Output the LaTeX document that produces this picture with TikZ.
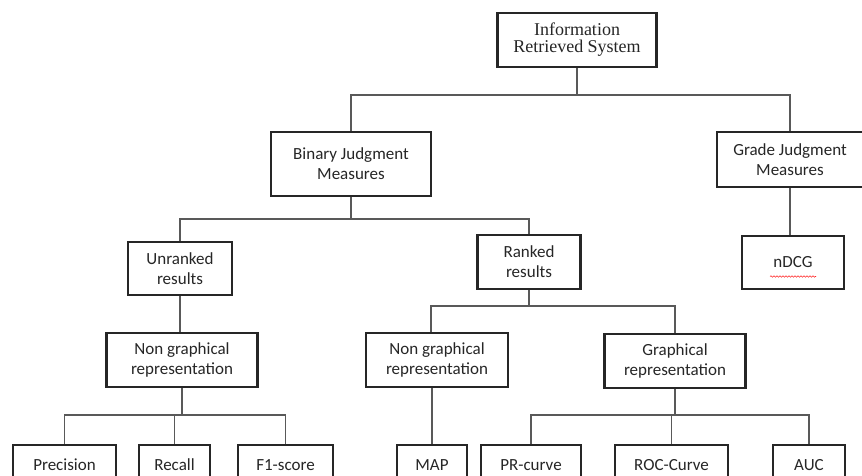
\documentclass[tikz,border=0pt]{standalone}
\usepackage{fontspec}
\setmainfont{Carlito}
\newfontfamily\irsfont{Liberation Serif}
\usetikzlibrary{decorations.pathmorphing}

\begin{document}
\begin{tikzpicture}[x=1pt,y=-1pt,
    box/.style={draw=black!85, line width=2.2pt, fill=white, align=center,
      inner sep=0pt, text=black!85, font=\fontsize{17}{20}\selectfont},
    leaf/.style={box, minimum height=40pt},
    link/.style={draw=black!65, line width=1.4pt}]
    % We will draw the tree of measures here
    \useasboundingbox (0,0) rectangle (862,476);
    \clip (0,0) rectangle (862,476);
    \fill[white] (0,0) rectangle (862,476);

    \node[box, minimum width=159pt, minimum height=54pt,
      font=\irsfont\fontsize{18}{17}\selectfont] (irs) at (577,40) {Information\\Retrieved System};
    \node[box, minimum width=160pt, minimum height=64pt] (bjm) at (351,164) {Binary Judgment\\Measures};
    \node[box, minimum width=146pt, minimum height=55pt] (gjm) at (790,159.5) {Grade Judgment\\Measures};

    \node[box, minimum width=104pt, minimum height=53pt] (unr) at (180,268.5) {Unranked\\results};
    \node[box, minimum width=103pt, minimum height=54pt] (rnk) at (529,262) {Ranked\\results};
    \node[box, minimum width=102pt, minimum height=53pt] (ndcg) at (793,262.5) {nDCG};

    \node[box, minimum width=151pt, minimum height=54pt] (ngl) at (182,360) {Non graphical\\representation};
    \node[box, minimum width=142pt, minimum height=54pt] (ngm) at (437,360) {Non graphical\\representation};
    \node[box, minimum width=141pt, minimum height=54pt] (gr) at (675,361) {Graphical\\representation};

    \node[leaf, minimum width=103pt] (prec) at (64.5,465) {Precision};
    \node[leaf, minimum width=71pt] (rec) at (174.5,465) {Recall};
    \node[leaf, minimum width=95pt] (fone) at (285.5,465) {F1-score};
    \node[leaf, minimum width=70pt] (map) at (432,465) {MAP};
    \node[leaf, minimum width=100pt] (prc) at (531,465) {PR-curve};
    \node[leaf, minimum width=113pt] (roc) at (671.5,465) {ROC-Curve};
    \node[leaf, minimum width=72pt] (auc) at (809,465) {AUC};

    % connectors
    \draw[link] (irs.south) -- ++(0,27) coordinate (j1);
    \draw[link] (j1) -| (bjm.north);
    \draw[link] (j1) -| (gjm.north);
    \draw[link] (gjm.south) -- (gjm.south |- ndcg.north);

    \draw[link] (bjm.south) -- ++(0,22) coordinate (j2);
    \draw[link] (j2) -| (unr.north);
    \draw[link] (j2) -| (rnk.north);
    \draw[link] (unr.south) -- (unr.south |- ngl.north);

    \draw[link] (rnk.south) -- ++(0,16) coordinate (j3);
    \draw[link] (j3) -| (gr.north);
    \draw[link] (j3) -| ([xshift=-6pt]ngm.north);
    \draw[link] (map.north) -- (map.north |- ngm.south);

    \draw[link] (ngl.south) -- ++(0,27) coordinate (j4);
    \foreach \n in {prec,rec,fone}
      \draw[link] (j4) -| (\n.north);

    \draw[link] (gr.south) -- ++(0,26) coordinate (j5);
    \foreach \n in {prc,roc,auc}
      \draw[link] (j5) -| (\n.north);

    % spell check mark under nDCG
    \draw[red!85, line width=0.6pt, decorate,
      decoration={snake, amplitude=0.7pt, segment length=3pt}]
      ([xshift=-23pt,yshift=-14pt]ndcg.center) -- ([xshift=23pt,yshift=-14pt]ndcg.center);
\end{tikzpicture}
\end{document}
